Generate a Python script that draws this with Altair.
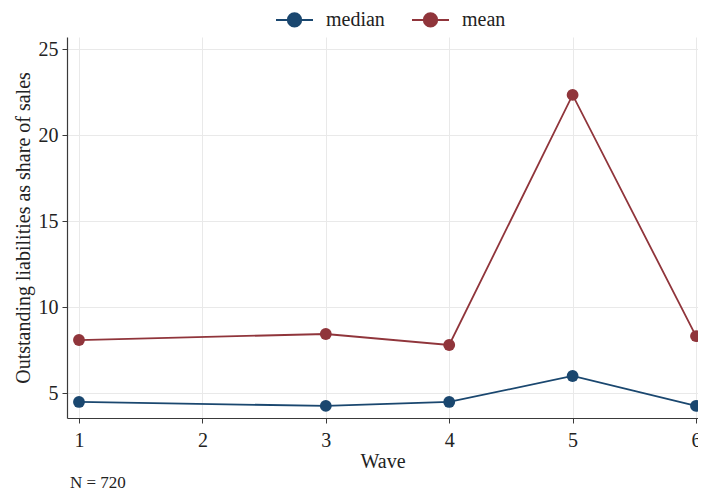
import altair as alt
import pandas as pd

waves = [1, 3, 4, 5, 6]
median_vals = [4.48, 4.25, 4.48, 5.99, 4.25]
mean_vals = [8.08, 8.43, 7.79, 22.33, 8.31]
series_names = ["median", "mean"]
series_colors = ["#1a476f", "#90353b"]
x_ticks = [1, 2, 3, 4, 5, 6]
y_ticks = [5, 10, 15, 20, 25]

rows = []
for w, v in zip(waves, median_vals):
    rows.append({"wave": w, "value": v, "stat": "median"})
for w, v in zip(waves, mean_vals):
    rows.append({"wave": w, "value": v, "stat": "mean"})
df = pd.DataFrame(rows)

FONT = "Liberation Serif"
sym = "M-1,0 L1,0 M-0.36,0 A0.36,0.36 0 1,1 0.36,0 A0.36,0.36 0 1,1 -0.36,0 Z"

x = alt.X("wave:Q", title="Wave",
          scale=alt.Scale(domain=[0.9028, 6.0162], nice=False, zero=False),
          axis=alt.Axis(values=x_ticks, format="d", labelFontSize=20, titleFontSize=20,
                        tickSize=5, labelPadding=7, titlePadding=1))
y = alt.Y("value:Q", title="Outstanding liabilities as share of sales",
          scale=alt.Scale(domain=[3.547, 25.698], nice=False, zero=False),
          axis=alt.Axis(values=y_ticks, labelFontSize=20, titleFontSize=20,
                        tickSize=5, labelPadding=4, titlePadding=5))
color = alt.Color("stat:N",
                  scale=alt.Scale(domain=series_names, range=series_colors),
                  legend=alt.Legend(title=None, orient="none", direction="horizontal",
                                    legendX=208, legendY=-37,
                                    symbolType=sym, symbolSize=1369, symbolStrokeWidth=2,
                                    labelFontSize=20, columnPadding=23, symbolOffset=0,
                                    labelOffset=12))

base = alt.Chart(df)
lines = base.mark_line(strokeWidth=1.8).encode(x=x, y=y, color=color, detail="stat:N")
points = base.mark_point(filled=True, size=140, opacity=1).encode(x=x, y=y, color=color)

chart = alt.layer(lines, points).properties(
    width=631, height=381,
    autosize=alt.AutoSizeParams(type="none"),
    padding={"left": 59, "top": 29, "right": 0, "bottom": 74},
    title=alt.TitleParams("N = 720", orient="bottom", anchor="start", frame="group",
                          fontSize=17, font=FONT, fontWeight="normal", offset=4, dx=3,
                          color="#222222"),
).configure(font=FONT).configure_axis(
    labelFont=FONT, titleFont=FONT, titleFontWeight="normal",
    gridColor="#e9e9e9", domainColor="#3a3a3a", tickColor="#3a3a3a",
    labelColor="#222222", titleColor="#222222", domainWidth=1.2,
).configure_legend(labelFont=FONT, labelColor="#222222").configure_view(stroke=None)

chart.save("out.html", embed_options={"renderer": "svg", "actions": False})
